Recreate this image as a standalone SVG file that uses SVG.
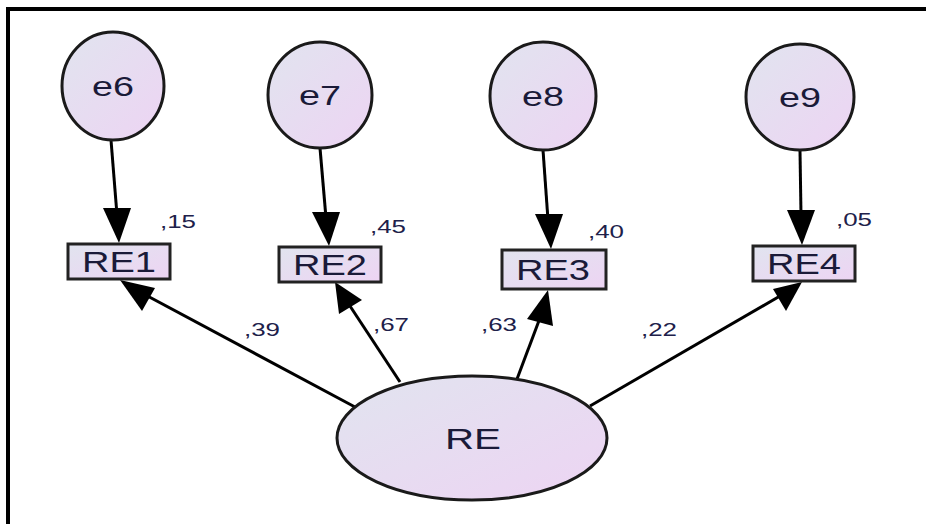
<svg xmlns="http://www.w3.org/2000/svg" width="926" height="524" viewBox="0 0 926 524">
<defs>
<linearGradient id="g" x1="0" y1="0" x2="1" y2="1">
<stop offset="0" stop-color="#e1e4ef"/>
<stop offset="1" stop-color="#edd4f3"/>
</linearGradient>
<style>
.n{fill:url(#g);stroke:#1a1a1a;stroke-width:3}
.b{fill:url(#g);stroke:#222;stroke-width:3}
.t{font-family:"Liberation Sans",Arial,sans-serif;fill:#1a1a38;text-anchor:middle}
.l{font-family:"Liberation Sans",Arial,sans-serif;fill:#20204a;font-size:18px}
.c{stroke:#000;stroke-width:3;fill:none}
.h{fill:#000}
</style>
</defs>
<rect width="926" height="524" fill="#fff"/>
<path d="M8,526 V9 H926" fill="none" stroke="#000" stroke-width="4"/>
<g id="connectors">
<line class="c" x1="111" y1="140" x2="117" y2="215"/>
<polygon class="h" points="103,208 131,208 119,243"/>
<line class="c" x1="320" y1="148" x2="326" y2="218"/>
<polygon class="h" points="312,212 340,212 329,246"/>
<line class="c" x1="543" y1="150" x2="548" y2="220"/>
<polygon class="h" points="535,214 563,214 551,249"/>
<line class="c" x1="800" y1="151" x2="801" y2="215"/>
<polygon class="h" points="787,210 815,210 802,245"/>
<line class="c" x1="355" y1="407" x2="140" y2="292"/>
<polygon class="h" points="120,280 155,288 142,311"/>
<line class="c" x1="400" y1="382" x2="348" y2="303"/>
<polygon class="h" points="335,282 362,300 339,314"/>
<line class="c" x1="517" y1="379" x2="540" y2="318"/>
<polygon class="h" points="548,290 553,326 527,319"/>
<line class="c" x1="590" y1="406" x2="780" y2="296"/>
<polygon class="h" points="802,282 786,311 773,289"/>
</g>
<g id="e6"><ellipse class="n" cx="113" cy="86" rx="51" ry="54"/><text class="t" x="113" y="96" font-size="27" textLength="42" lengthAdjust="spacingAndGlyphs">e6</text></g>
<g id="e7"><ellipse class="n" cx="320" cy="95" rx="52" ry="53"/><text class="t" x="320" y="105" font-size="27" textLength="42" lengthAdjust="spacingAndGlyphs">e7</text></g>
<g id="e8"><ellipse class="n" cx="543" cy="96" rx="53" ry="54"/><text class="t" x="543" y="106" font-size="27" textLength="42" lengthAdjust="spacingAndGlyphs">e8</text></g>
<g id="e9"><ellipse class="n" cx="800" cy="97" rx="54" ry="53"/><text class="t" x="800" y="107" font-size="27" textLength="42" lengthAdjust="spacingAndGlyphs">e9</text></g>
<g id="RE1"><rect class="b" x="68" y="244" width="102" height="35"/><text class="t" x="119" y="272" font-size="29" textLength="74" lengthAdjust="spacingAndGlyphs">RE1</text></g>
<g id="RE2"><rect class="b" x="279" y="247" width="102" height="35"/><text class="t" x="330" y="275" font-size="29" textLength="74" lengthAdjust="spacingAndGlyphs">RE2</text></g>
<g id="RE3"><rect class="b" x="502" y="250" width="104" height="39"/><text class="t" x="553" y="280" font-size="29" textLength="74" lengthAdjust="spacingAndGlyphs">RE3</text></g>
<g id="RE4"><rect class="b" x="753" y="246" width="102" height="35"/><text class="t" x="804" y="274" font-size="29" textLength="74" lengthAdjust="spacingAndGlyphs">RE4</text></g>
<g id="RE"><ellipse class="n" cx="472" cy="438" rx="135" ry="62"/><text class="t" x="473" y="449" font-size="30" textLength="56" lengthAdjust="spacingAndGlyphs">RE</text></g>
<g id="labels">
<text class="l" x="160" y="228" textLength="36" lengthAdjust="spacingAndGlyphs">,15</text>
<text class="l" x="370" y="233" textLength="36" lengthAdjust="spacingAndGlyphs">,45</text>
<text class="l" x="588" y="238" textLength="36" lengthAdjust="spacingAndGlyphs">,40</text>
<text class="l" x="836" y="226" textLength="36" lengthAdjust="spacingAndGlyphs">,05</text>
<text class="l" x="244" y="336" textLength="36" lengthAdjust="spacingAndGlyphs">,39</text>
<text class="l" x="373" y="331" textLength="36" lengthAdjust="spacingAndGlyphs">,67</text>
<text class="l" x="481" y="331" textLength="36" lengthAdjust="spacingAndGlyphs">,63</text>
<text class="l" x="641" y="336" textLength="36" lengthAdjust="spacingAndGlyphs">,22</text>
</g>
</svg>
